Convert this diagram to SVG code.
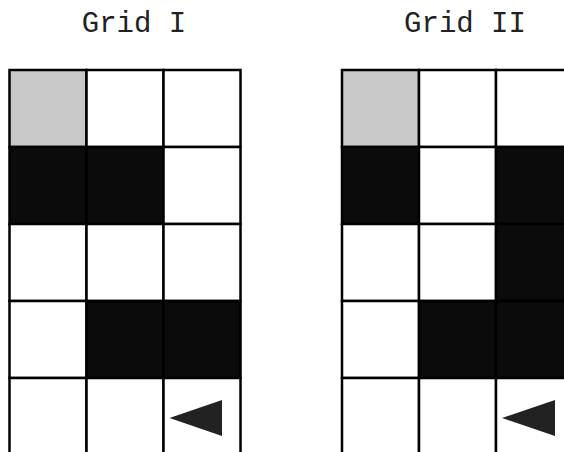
<svg xmlns="http://www.w3.org/2000/svg" width="564" height="452" viewBox="0 0 564 452">
<style>
.t{font-family:"Courier New","Nimbus Mono PS","Nimbus Mono L",FreeMono,Courier,"Liberation Mono",monospace;font-size:29px;fill:#222;text-anchor:middle}
.w{fill:#fff;stroke:#000;stroke-width:2.5}
.g{fill:#c8c8c8;stroke:#000;stroke-width:2.5}
.b{fill:#0b0b0b;stroke:#000;stroke-width:2.5}
.a{fill:#222}
</style>
<rect width="564" height="452" fill="#fff"/>
<text class="t" x="134" y="32">Grid I</text>
<text class="t" x="465" y="32">Grid II</text>
<g id="grid1">
<rect class="g" x="9.5" y="70" width="77" height="77"/>
<rect class="w" x="86.5" y="70" width="77" height="77"/>
<rect class="w" x="163.5" y="70" width="77" height="77"/>
<rect class="b" x="9.5" y="147" width="77" height="77"/>
<rect class="b" x="86.5" y="147" width="77" height="77"/>
<rect class="w" x="163.5" y="147" width="77" height="77"/>
<rect class="w" x="9.5" y="224" width="77" height="77"/>
<rect class="w" x="86.5" y="224" width="77" height="77"/>
<rect class="w" x="163.5" y="224" width="77" height="77"/>
<rect class="w" x="9.5" y="301" width="77" height="77"/>
<rect class="b" x="86.5" y="301" width="77" height="77"/>
<rect class="b" x="163.5" y="301" width="77" height="77"/>
<rect class="w" x="9.5" y="378" width="77" height="77"/>
<rect class="w" x="86.5" y="378" width="77" height="77"/>
<rect class="w" x="163.5" y="378" width="77" height="77"/>
<polygon class="a" points="169.5,418 222,400 222,436"/>
</g>
<g id="grid2">
<rect class="g" x="342" y="70" width="77" height="77"/>
<rect class="w" x="419" y="70" width="77" height="77"/>
<rect class="w" x="496" y="70" width="77" height="77"/>
<rect class="b" x="342" y="147" width="77" height="77"/>
<rect class="w" x="419" y="147" width="77" height="77"/>
<rect class="b" x="496" y="147" width="77" height="77"/>
<rect class="w" x="342" y="224" width="77" height="77"/>
<rect class="w" x="419" y="224" width="77" height="77"/>
<rect class="b" x="496" y="224" width="77" height="77"/>
<rect class="w" x="342" y="301" width="77" height="77"/>
<rect class="b" x="419" y="301" width="77" height="77"/>
<rect class="b" x="496" y="301" width="77" height="77"/>
<rect class="w" x="342" y="378" width="77" height="77"/>
<rect class="w" x="419" y="378" width="77" height="77"/>
<rect class="w" x="496" y="378" width="77" height="77"/>
<polygon class="a" points="502,418 555,400 555,436"/>
</g>
<g id="connectors"/>
</svg>
